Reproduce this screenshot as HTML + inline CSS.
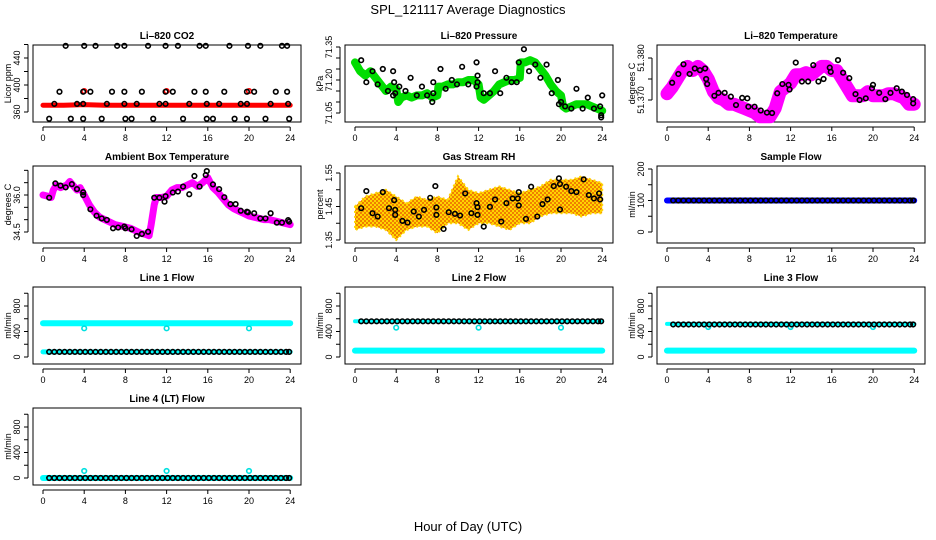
<!DOCTYPE html>
<html><head><meta charset="utf-8">
<style>
html,body{margin:0;padding:0;background:#fff;}
svg{display:block;font-family:"Liberation Sans",sans-serif;}
</style></head>
<body>
<svg id="chart" width="936" height="540" viewBox="0 0 936 540" xmlns="http://www.w3.org/2000/svg">
<defs>
<pattern id="rhpat" width="4" height="4" patternUnits="userSpaceOnUse">
<rect width="4" height="4" fill="#ffd400"/>
<rect width="2" height="2" fill="#f08000"/>
<rect x="2" y="2" width="2" height="2" fill="#f08000"/>
</pattern>
</defs>
<text x="468" y="14" font-size="13" text-anchor="middle">SPL_121117  Average Diagnostics</text>
<text x="468" y="531" font-size="13" text-anchor="middle">Hour of Day (UTC)</text>
</svg>
<script>
// ---------- data ----------
const xTicks = [0,4,8,12,16,20,24];

// Li-820 CO2
const co2BandHours = [0,2,4,6,8,10,12,14,16,18,20,22,24];
const co2BandValues = [370,370,371,370,370,370,370,370,370,370,370,370,370];
const co2Hours = [2.2,4.0,5.1,7.2,7.9,10.2,11.9,13.1,15.2,15.8,18.1,19.9,21.1,23.2,23.7,
  0.6,2.7,3.9,5.7,8.0,8.6,10.7,13.6,15.9,16.5,18.6,19.8,21.6,23.9,
  1.6,3.9,4.6,6.7,7.9,9.6,11.9,12.6,14.7,15.8,17.6,19.8,20.5,22.6,23.7,
  1.1,3.3,3.9,6.2,7.9,9.1,11.3,11.9,14.2,15.9,17.1,19.2,19.8,22.1,23.8];
const co2Values = [458,458,458,458,458,458,458,458,458,458,458,458,458,458,458,
  350,350,350,350,350,350,350,350,350,350,350,350,350,350,
  390,390,390,390,390,390,390,390,390,390,390,390,390,390,390,
  372,372,372,372,372,372,372,372,372,372,372,372,372,372,372];

// Li-820 Pressure
const presBandHours = [0,0.5,1,1.5,2,2.5,3,3.5,4,4.2,4.5,5,5.5,6,6.5,7,7.5,8,8.1,8.5,9,9.5,10,10.5,11,11.5,12,12.2,12.5,13,13.5,14,14.5,15,15.5,16,16.1,16.5,17,17.5,18,18.5,19,19.5,20,20.2,20.5,21,21.5,22,22.5,23,23.5,24];
const presBandValues = [71.28,71.24,71.22,71.24,71.21,71.18,71.15,71.17,71.16,71.10,71.12,71.13,71.12,71.13,71.13,71.14,71.12,71.13,71.17,71.17,71.18,71.18,71.19,71.19,71.20,71.20,71.18,71.12,71.11,71.13,71.15,71.18,71.19,71.20,71.20,71.21,71.28,71.28,71.29,71.28,71.25,71.22,71.18,71.15,71.13,71.08,71.07,71.08,71.09,71.09,71.09,71.08,71.07,71.06];
const presHours = [0.6,1.1,1.7,2.2,2.7,3.2,3.7,3.8,3.7,3.9,4.3,4.9,5.4,6.0,6.5,7.0,7.6,7.5,7.6,8.3,8.8,9.4,9.9,10.4,11.0,11.8,11.8,11.9,11.9,12.5,13.1,13.6,14.1,14.7,15.2,15.7,15.9,16.4,16.9,17.5,18.0,18.6,19.1,19.7,19.8,20.0,20.4,21.0,21.5,22.1,22.6,23.2,23.8,23.9,23.9,24.0];
const presValues = [71.29,71.19,71.24,71.18,71.25,71.15,71.24,71.19,71.13,71.14,71.17,71.15,71.21,71.13,71.17,71.13,71.14,71.10,71.19,71.25,71.16,71.20,71.18,71.26,71.18,71.28,71.17,71.22,71.19,71.14,71.14,71.24,71.14,71.21,71.19,71.19,71.28,71.34,71.24,71.27,71.21,71.27,71.14,71.20,71.09,71.10,71.08,71.07,71.16,71.07,71.12,71.07,71.08,71.04,71.03,71.13];

// Li-820 Temperature
const tempBandHours = [0,0.5,1,1.5,2,2.5,3,3.5,4,4.5,5,5.5,6,6.5,7,7.5,8,8.5,9,9.5,10,10.5,11,11.5,12,12.5,13,13.5,14,14.5,15,15.5,16,16.5,17,17.5,18,18.5,19,19.5,20,20.5,21,21.5,22,22.5,23,23.5,24];
const tempBandValues = [51.3715,51.373,51.375,51.377,51.378,51.377,51.378,51.377,51.375,51.372,51.3705,51.370,51.369,51.369,51.3685,51.368,51.3675,51.367,51.366,51.366,51.366,51.368,51.372,51.373,51.374,51.376,51.376,51.3765,51.376,51.377,51.378,51.378,51.377,51.377,51.375,51.373,51.371,51.371,51.371,51.372,51.371,51.371,51.371,51.3715,51.3715,51.371,51.3705,51.369,51.369];
const tempHours = [0.5,1.1,1.6,2.2,2.7,3.2,3.7,3.8,3.9,4.6,5.0,5.6,6.2,6.7,7.3,7.8,7.9,8.5,9.1,9.7,10.2,10.7,11.2,11.8,11.9,12.5,13.1,13.7,14.2,14.7,15.2,15.8,15.9,16.6,17.1,17.7,18.3,18.7,19.3,19.9,20.0,20.6,21.2,21.7,22.3,22.8,23.3,23.9,23.9];
const tempValues = [51.3741,51.3762,51.3785,51.3762,51.3775,51.3771,51.3775,51.3750,51.3738,51.3710,51.3717,51.3717,51.3708,51.3688,51.3705,51.3704,51.3684,51.3684,51.3675,51.3670,51.3669,51.3716,51.3738,51.3736,51.3725,51.3789,51.3744,51.3744,51.3783,51.3744,51.3750,51.3777,51.3767,51.3795,51.3765,51.3752,51.3714,51.3700,51.3704,51.3728,51.3736,51.3717,51.3702,51.3717,51.3728,51.3720,51.3712,51.3692,51.3702];

// Ambient Box Temperature
const ambBandHours = [0,0.5,0.8,1,1.3,1.7,2,2.3,2.6,3,3.3,3.6,4,4.5,5,5.5,6,6.5,7,7.5,8,8.5,9,9.5,10,10.3,10.5,10.8,11,11.5,12,12.5,13,13.5,14,14.5,15,15.5,16,16.5,17,17.5,18,18.5,19,19.5,20,20.5,21,21.5,22,22.5,23,23.5,24];
const ambBandValues = [36.0,35.95,35.9,36.2,36.4,36.3,36.35,36.4,36.55,36.35,36.2,36.3,36.0,35.6,35.3,35.1,35.0,34.9,34.8,34.75,34.7,34.65,34.55,34.45,34.4,34.35,34.8,35.6,35.9,35.9,35.95,36.2,36.3,36.3,36.4,36.5,36.35,36.5,36.7,36.3,36.1,35.85,35.6,35.45,35.35,35.25,35.15,35.1,35.05,35.0,35.0,34.95,34.9,34.85,34.8];
const ambHours = [0.6,1.2,1.7,2.2,2.8,3.3,3.9,3.9,4.6,5.2,5.7,6.2,6.8,7.3,7.9,8.0,8.6,9.1,9.6,10.2,10.8,11.3,11.8,11.9,12.6,13.1,13.6,14.2,14.7,15.2,15.8,15.9,16.5,17.1,17.6,18.2,18.7,19.2,19.8,19.9,20.5,21.1,21.6,22.1,22.7,23.2,23.8,23.9];
const ambValues = [35.89,36.47,36.38,36.31,36.44,36.24,36.11,36.0,35.42,35.16,35.05,34.99,34.65,34.68,34.72,34.65,34.61,34.34,34.42,34.51,35.89,35.89,35.73,35.95,36.1,36.14,36.34,36.03,36.77,36.34,36.81,36.97,36.43,36.24,35.91,35.63,35.63,35.36,35.32,35.30,35.26,35.05,35.05,35.26,34.88,34.88,34.98,34.92];

// Gas Stream RH
const rhBandHours = [0,1,2,3,4,5,6,7,8,9,10,11,12,13,14,15,16,17,18,19,20,21,22,23,24];
const rhBandLow = [1.38,1.39,1.39,1.38,1.35,1.38,1.39,1.39,1.37,1.40,1.40,1.38,1.40,1.40,1.39,1.38,1.40,1.40,1.42,1.43,1.43,1.43,1.42,1.43,1.43];
const rhBandHigh = [1.45,1.48,1.49,1.50,1.48,1.46,1.48,1.47,1.48,1.47,1.54,1.50,1.49,1.50,1.51,1.50,1.49,1.50,1.51,1.53,1.53,1.53,1.54,1.53,1.52];
const rhHours = [0.6,1.1,1.7,2.2,2.7,3.3,3.8,3.9,3.9,4.6,5.1,5.7,6.2,6.7,7.3,7.8,7.9,7.9,8.6,9.1,9.7,10.2,10.7,11.3,11.8,11.9,11.9,12.5,13.1,13.6,14.2,14.7,15.3,15.8,15.9,15.9,16.6,17.1,17.7,18.2,18.7,19.3,19.8,19.9,19.9,20.5,21.0,21.5,22.2,22.7,23.2,23.7,23.8];
const rhValues = [1.445,1.496,1.430,1.420,1.493,1.445,1.469,1.425,1.440,1.407,1.402,1.435,1.420,1.440,1.476,1.511,1.447,1.425,1.383,1.433,1.428,1.423,1.489,1.430,1.460,1.448,1.425,1.390,1.449,1.471,1.405,1.460,1.474,1.474,1.493,1.453,1.413,1.509,1.420,1.457,1.471,1.511,1.534,1.517,1.441,1.509,1.496,1.493,1.531,1.484,1.474,1.489,1.471];

// flows
const flowHours = [0.6,1.1,1.6,2.1,2.6,3.1,3.6,4.1,4.6,5.1,5.6,6.1,6.6,7.1,7.6,8.1,8.6,9.1,9.6,10.1,10.6,11.1,11.6,12.1,12.6,13.1,13.6,14.1,14.6,15.1,15.6,16.1,16.6,17.1,17.6,18.1,18.6,19.1,19.6,20.1,20.6,21.1,21.6,22.1,22.6,23.1,23.6,23.9];
const bandHours = [0,24];
const dipHours = [4,12,20];
const sampleFlowValue = [100];
const sampleBandValue = [100];
const line1Black = [80];   const line1Band = [530]; const line1Dip = [450];
const line2Black = [560];  const line2Band = [100]; const line2Dip = [460]; const line2Start = [560];
const line3Black = [510];  const line3Band = [100]; const line3Dip = [470]; const line3Start = [520];
const line4Black = [0];    const line4Band = [0];   const line4Dip = [110];

// ---------- helpers ----------
const svg = document.getElementById('chart');
const NS = 'http://www.w3.org/2000/svg';
function mk(tag, attrs, parent){
  const e = document.createElementNS(NS, tag);
  for (const k in attrs) e.setAttribute(k, attrs[k]);
  (parent||svg).appendChild(e);
  return e;
}
const colLeft = [33,345,657], rowTop = [45,166,287,408], W = 268, H = 77;

function panel(col,row,title,ylab,yref,yTicks,yLabels,name){
  const L = colLeft[col], T = rowTop[row];
  const g = mk('g',{});
  
  
  const sx = h => L + 10 + h*10.3;
  const [v1,o1,v2,o2] = yref;
  const sy = v => T + o1 + (v - v1)*(o2 - o1)/(v2 - v1);
  const box = mk('rect',{x:L,y:T,width:W,height:H,fill:'none',stroke:'#000','stroke-width':1},g);
  
  
  const t = mk('text',{x:L+W/2,y:T-6,'font-size':10,'font-weight':'bold','text-anchor':'middle'},g);
  t.textContent = title;
  
  
  const xa = mk('g',{},g);
  
  
  const yb = T + H + 5;
  mk('line',{x1:sx(xTicks[0]),x2:sx(xTicks[xTicks.length-1]),y1:yb,y2:yb,stroke:'#000'},xa);
  xTicks.forEach(v=>{
    mk('line',{x1:sx(v),x2:sx(v),y1:yb,y2:yb+4,stroke:'#000'},xa);
    const tx = mk('text',{x:sx(v),y:yb+14,'font-size':9,'text-anchor':'middle'},xa);
    tx.textContent = v;
  });
  const ya = mk('g',{},g);
  
  
  const xl = L - 5;
  mk('line',{x1:xl,x2:xl,y1:sy(yTicks[0]),y2:sy(yTicks[yTicks.length-1]),stroke:'#000'},ya);
  yTicks.forEach(v=>mk('line',{x1:xl,x2:xl-4,y1:sy(v),y2:sy(v),stroke:'#000'},ya));
  yLabels.forEach(v=>{
    const tx = mk('text',{x:0,y:0,'font-size':9,'text-anchor':'middle',transform:`translate(${xl-8},${sy(v)}) rotate(-90)`},ya);
    tx.textContent = v;
  });
  const yt = mk('text',{x:0,y:0,'font-size':9,'text-anchor':'middle',transform:`translate(${L-22},${T+H/2}) rotate(-90)`},g);
  yt.textContent = ylab;
  
  
  return {g,sx,sy};
}
function band(p,hours,vals,color,w,name){
  const pts = hours.map((h,i)=>p.sx(h)+','+p.sy(vals[i])).join(' ');
  const pl = mk('polyline',{points:pts,fill:'none',stroke:color,'stroke-width':w,'stroke-linejoin':'round','stroke-linecap':'round'},p.g);
  
  
}
function pts(p,hours,vals,color,name,r){
  const g = mk('g',{},p.g);
  
  
  hours.forEach((h,i)=>{
    const v = vals.length===1 ? vals[0] : vals[i];
    mk('circle',{cx:p.sx(h),cy:p.sy(v),r:r||2.3,fill:'none',stroke:color,'stroke-width':1.6},g);
  });
}
function hband(p,v,color,w,name){ band(p,bandHours,[v,v],color,w,name); }

// ---------- panels ----------
let p;
p = panel(0,0,'Li\u2013820 CO2','Licor ppm',[360,67,440,13],[360,380,400,420,440,460],[360,400,440],'co2-panel');
band(p,co2BandHours,co2BandValues,'#ff0000',5,'co2-band');
pts(p,dipHours,[391,391,391],'#ff0000','co2-red-points');
pts(p,co2Hours,co2Values,'#000','co2-points');

p = panel(1,0,'Li\u2013820 Pressure','kPa',[71.05,68,71.35,2],[71.05,71.10,71.15,71.20,71.25,71.30,71.35],['71.05','71.20','71.35'],'pressure-panel');
band(p,presBandHours,presBandValues,'#00dd00',8,'pressure-band');
pts(p,presHours,presValues,'#000','pressure-points');

p = panel(2,0,'Li\u2013820 Temperature','degrees C',[51.370,55,51.380,13],[51.370,51.375,51.380],['51.370','51.380'],'li820-temp-panel');
band(p,tempBandHours,tempBandValues,'#ff00ff',13,'li820-temp-band');
pts(p,tempHours,tempValues,'#000','li820-temp-points');

p = panel(0,1,'Ambient Box Temperature','degrees C',[34.5,66,36.0,29],[34.5,35.0,35.5,36.0,36.5,37.0],['34.5','36.0'],'ambient-temp-panel');
band(p,ambBandHours,ambBandValues,'#ff00ff',7,'ambient-temp-band');
pts(p,ambHours,ambValues,'#000','ambient-temp-points');

p = panel(1,1,'Gas Stream RH','percent',[1.35,74,1.55,7],[1.35,1.40,1.45,1.50,1.55],['1.35','1.45','1.55'],'rh-panel');
{
  const top = rhBandHours.map((h,i)=>p.sx(h)+','+p.sy(rhBandHigh[i]));
  const bot = rhBandHours.map((h,i)=>p.sx(h)+','+p.sy(rhBandLow[i])).reverse();
  const poly = mk('polygon',{points:top.concat(bot).join(' '),fill:'url(#rhpat)',stroke:'#ffd400','stroke-width':2,'stroke-dasharray':'2 3'},p.g);
  
  
}
pts(p,rhHours,rhValues,'#000','rh-points');

p = panel(2,1,'Sample Flow','ml/min',[0,66,200,3],[0,50,100,150,200],[0,100,200],'sample-flow-panel');
hband(p,sampleBandValue[0],'#0000ff',6,'sample-flow-band');
pts(p,flowHours,sampleFlowValue,'#000','sample-flow-points');

const flowRef = [0,70,800,19], flowTicks=[0,200,400,600,800,1000], flowLabels=[0,400,800];
p = panel(0,2,'Line 1 Flow','ml/min',flowRef,flowTicks,flowLabels,'line1-flow-panel');
hband(p,line1Band[0],'#00ffff',6,'line1-cyan-band');
pts(p,dipHours,line1Dip,'#00e0e0','line1-cyan-dips');
hband(p,line1Black[0],'#00ffff',5,'line1-cyan-low');
pts(p,flowHours,line1Black,'#000','line1-points');

p = panel(1,2,'Line 2 Flow','ml/min',flowRef,flowTicks,flowLabels,'line2-flow-panel');
hband(p,line2Band[0],'#00ffff',6,'line2-cyan-band');
band(p,[0,24],[line2Start[0],line2Start[0]],'#00ffff',4,'line2-cyan-high');
pts(p,dipHours,line2Dip,'#00e0e0','line2-cyan-dips');
pts(p,flowHours,line2Black,'#000','line2-points');

p = panel(2,2,'Line 3 Flow','ml/min',flowRef,flowTicks,flowLabels,'line3-flow-panel');
hband(p,line3Band[0],'#00ffff',6,'line3-cyan-band');
band(p,[0,24],[line3Start[0],line3Start[0]],'#00ffff',4,'line3-cyan-high');
pts(p,dipHours,line3Dip,'#00e0e0','line3-cyan-dips');
pts(p,flowHours,line3Black,'#000','line3-points');

p = panel(0,3,'Line 4 (LT) Flow','ml/min',flowRef,flowTicks,flowLabels,'line4-flow-panel');
hband(p,line4Band[0],'#00ffff',6,'line4-cyan-band');
pts(p,dipHours,line4Dip,'#00e0e0','line4-cyan-dips');
pts(p,flowHours,line4Black,'#000','line4-points');
</script>
</body></html>
